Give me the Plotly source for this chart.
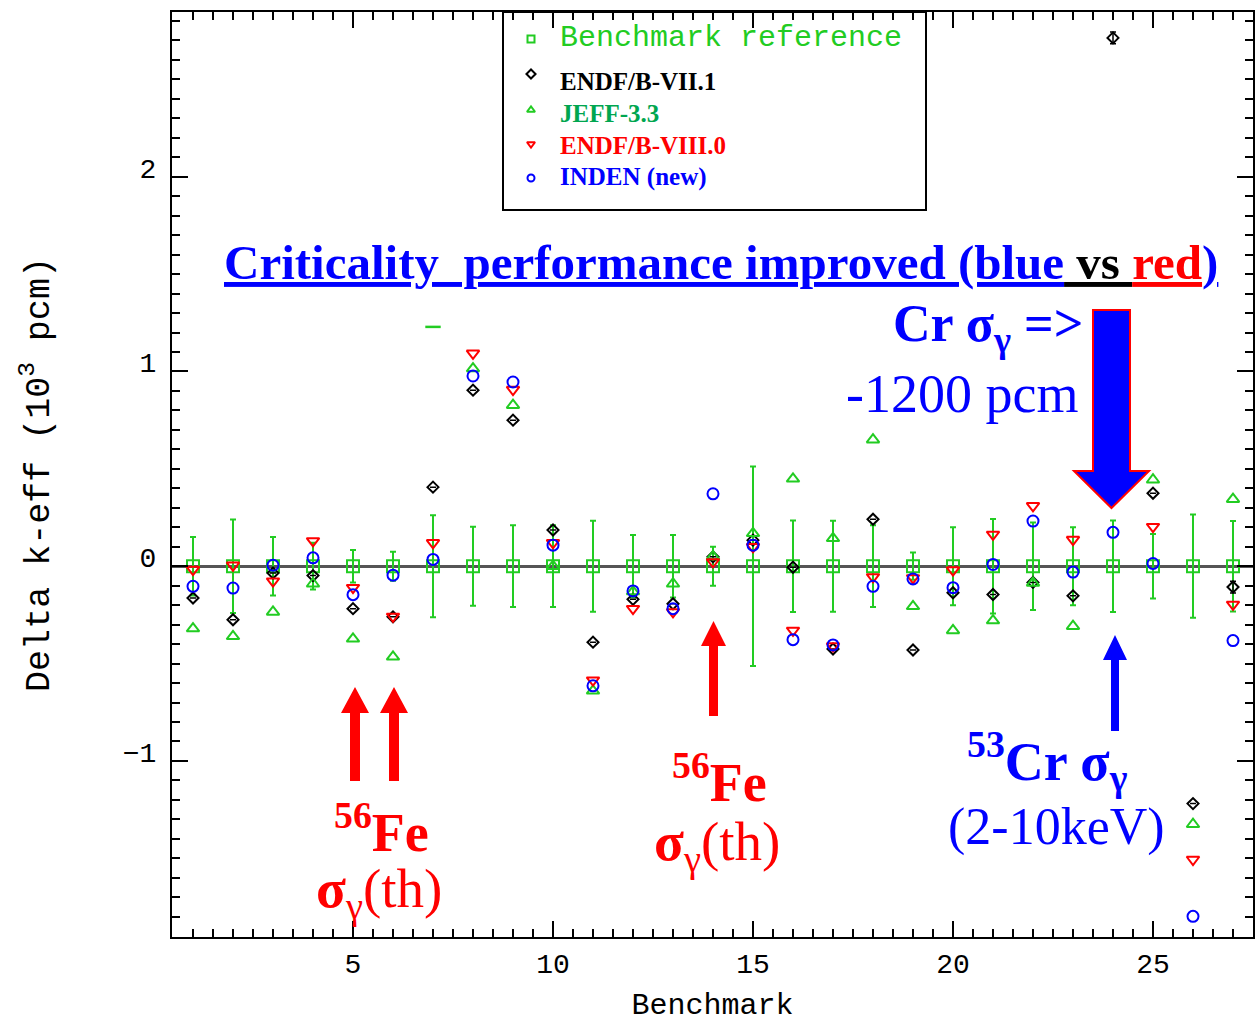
import plotly.graph_objects as go

# ---------------------------------------------------------------- data
benchmarks = list(range(1, 28))

# benchmark (experimental) reference: 0 with its 1-sigma uncertainty (10^3 pcm)
bench_ref = [0.0] * 27
bench_unc = [0.15, 0.24, 0.15, 0.12, 0.083, 0.074, 0.262, 0.203, 0.21, 0.21,
             0.234, 0.16, 0.16, 0.10, 0.512, 0.235, 0.234, 0.21, 0.07, 0.20,
             0.243, 0.225, 0.20, 0.235, 0.166, 0.265, 0.232]

endf71 = [-0.163, -0.275, -0.035, -0.048, -0.218, -0.26, 0.406, 0.904, 0.750, 0.186,
          -0.39, -0.17, -0.193, 0.048, 0.134, -0.005, -0.425, 0.241, -0.43, -0.136,
          -0.145, -0.083, -0.152, 2.713, 0.375, -1.219, -0.107]
endf71_unc = [0, 0, 0, 0, 0, 0, 0, 0, 0, 0, 0, 0, 0, 0, 0, 0, 0, 0, 0, 0,
              0, 0, 0, 0.03, 0, 0, 0.03]

jeff33 = [-0.32, -0.36, -0.235, -0.09, -0.373, -0.465, None, 1.015, 0.827, 0.0,
          -0.64, -0.13, -0.09, 0.05, 0.169, 0.449, 0.143, 0.65, -0.206, -0.33,
          -0.279, -0.086, -0.308, None, 0.444, -1.325, 0.344]

endf80 = [-0.017, 0.005, -0.077, 0.13, -0.11, -0.258, 0.12, 1.093, 0.907, 0.12,
          -0.585, -0.218, -0.235, 0.022, 0.1, -0.33, -0.41, -0.055, -0.06, -0.02,
          0.163, 0.31, 0.137, None, 0.203, -1.506, -0.196]

inden = [-0.103, -0.112, 0.005, 0.043, -0.146, -0.046, 0.035, 0.977, 0.946, 0.108,
         -0.614, -0.127, -0.218, 0.372, 0.108, -0.377, -0.404, -0.103, -0.065, -0.11,
         0.009, 0.232, -0.03, 0.174, 0.014, -1.798, -0.382]

# JEFF-3.3 mark for benchmark 7 drawn as a dash
jeff_dash_x = [7]
jeff_dash_y = [1.229]

series_names = ["Benchmark reference", "ENDF/B-VII.1", "JEFF-3.3",
                "ENDF/B-VIII.0", "INDEN (new)"]

# ---------------------------------------------------------------- layout geometry
W, H = 1255, 1023
M = dict(l=172, r=2, t=12, b=86)
PW = W - M["l"] - M["r"]
PH = H - M["t"] - M["b"]
X_RANGE = [0.475, 27.5]
Y_RANGE = [-1.904, 2.846]

GREEN = "rgb(34,204,34)"
DARK_GREEN = "rgb(0,166,80)"
RED = "rgb(255,0,0)"
BLUE = "rgb(0,0,255)"
SERIF = "Liberation Serif"
MONO = "Liberation Mono"


def dx(px):
    return X_RANGE[0] + (px - M["l"]) / PW * (X_RANGE[1] - X_RANGE[0])


def dy(py):
    return Y_RANGE[1] - (py - M["t"]) / PH * (Y_RANGE[1] - Y_RANGE[0])


def paper(px, py):
    return (px - M["l"]) / PW, (M["t"] + PH - py) / PH


def arrow_path(cx, tip, head_base, tail, head_hw, shaft_hw):
    pts = [(cx, tip), (cx + head_hw, head_base), (cx + shaft_hw, head_base),
           (cx + shaft_hw, tail), (cx - shaft_hw, tail), (cx - shaft_hw, head_base),
           (cx - head_hw, head_base)]
    return "M " + " L ".join(f"{dx(x):.4f},{dy(y):.4f}" for x, y in pts) + " Z"


fig = go.Figure()

fig.add_trace(go.Scatter(
    x=benchmarks, y=bench_ref, mode="markers", name=series_names[0],
    marker=dict(symbol="square-open", size=12, color=GREEN, line=dict(width=2)),
    error_y=dict(type="data", array=bench_unc, color=GREEN, thickness=2, width=3),
))
fig.add_trace(go.Scatter(
    x=benchmarks, y=endf71, mode="markers", name=series_names[1],
    marker=dict(symbol="diamond-open", size=8.5, color="black", line=dict(width=2)),
    error_y=dict(type="data", array=endf71_unc, color="black", thickness=1.5, width=3),
))
fig.add_trace(go.Scatter(
    x=benchmarks, y=jeff33, mode="markers", name=series_names[2],
    marker=dict(symbol="triangle-up-open", size=11, color=GREEN, line=dict(width=2)),
))
fig.add_trace(go.Scatter(
    x=jeff_dash_x, y=jeff_dash_y, mode="markers", showlegend=False,
    marker=dict(symbol="line-ew-open", size=11, color=GREEN, line=dict(width=2.5, color=GREEN)),
))
fig.add_trace(go.Scatter(
    x=benchmarks, y=endf80, mode="markers", name=series_names[3],
    marker=dict(symbol="triangle-down-open", size=11, color=RED, line=dict(width=2)),
))
fig.add_trace(go.Scatter(
    x=benchmarks, y=inden, mode="markers", name=series_names[4],
    marker=dict(symbol="circle-open", size=11, color=BLUE, line=dict(width=2)),
))

# ---------------------------------------------------------------- key box
key_rows_py = [39, 74, 110, 144, 178]
key_text_py = [38, 81, 114, 146, 177]
key_symbols = ["square-open", "diamond-open", "triangle-up-open", "triangle-down-open", "circle-open"]
key_colors = [GREEN, "black", GREEN, RED, BLUE]
key_text_colors = [GREEN, "black", DARK_GREEN, RED, BLUE]

kx = [paper(531, py)[0] for py in key_rows_py]
ky = [paper(531, py)[1] for py in key_rows_py]
fig.add_trace(go.Scatter(
    x=kx, y=ky, mode="markers", xaxis="x2", yaxis="y2", showlegend=False,
    hoverinfo="skip",
    marker=dict(symbol=key_symbols, size=7, color=key_colors, line=dict(width=2, color=key_colors)),
))

shapes = []
x0, y0 = paper(503, 210)
x1, y1 = paper(926, 12)
shapes.append(dict(type="rect", xref="paper", yref="paper", x0=x0, y0=y0, x1=x1, y1=y1,
                   line=dict(color="black", width=2), fillcolor="white", layer="below"))

# ---------------------------------------------------------------- arrows
shapes.append(dict(type="path", xref="x", yref="y", layer="above",
                   path=arrow_path(355, 687, 713, 781, 14, 5),
                   fillcolor=RED, line=dict(width=0)))
shapes.append(dict(type="path", xref="x", yref="y", layer="above",
                   path=arrow_path(394, 687, 713, 781, 14, 5),
                   fillcolor=RED, line=dict(width=0)))
shapes.append(dict(type="path", xref="x", yref="y", layer="above",
                   path=arrow_path(713.5, 621, 646, 716, 12.5, 4.5),
                   fillcolor=RED, line=dict(width=0)))
shapes.append(dict(type="path", xref="x", yref="y", layer="above",
                   path=arrow_path(1115, 635, 660, 731, 12, 4),
                   fillcolor=BLUE, line=dict(width=0)))
shapes.append(dict(type="path", xref="x", yref="y", layer="above",
                   path=arrow_path(1111.5, 508, 471, 310, 37.5, 18.5),
                   fillcolor=BLUE, line=dict(width=2, color=RED)))

# ---------------------------------------------------------------- text
annotations = []


def note(px, py, text, size, color, family=SERIF, xanchor="center", yanchor="middle"):
    ax, ay = paper(px, py)
    annotations.append(dict(x=ax, y=ay, xref="paper", yref="paper", text=text,
                            showarrow=False, xanchor=xanchor, yanchor=yanchor,
                            font=dict(family=family, size=size, color=color)))


key_labels = [
    "Benchmark reference",
    "<b>ENDF/B-VII.1</b>",
    "<b>JEFF-3.3</b>",
    "<b>ENDF/B-VIII.0</b>",
    "<b>INDEN (new)</b>",
]
for i, lab in enumerate(key_labels):
    if i == 0:
        note(558, key_text_py[i], lab, 30, key_text_colors[i], family=MONO, xanchor="left")
    else:
        note(558, key_text_py[i], lab, 25, key_text_colors[i], xanchor="left")

title = ('<b><span style="color:blue"><u>Criticality&nbsp; performance improved (blue</u></span>'
         '<span style="color:black"><u> vs </u></span>'
         '<span style="color:red"><u>red</u></span>'
         '<span style="color:blue"><u>)</u></span></b>')
note(721, 262, title, 49, BLUE)

note(988, 328, "<b>Cr σ<sub>γ</sub> =></b>", 52, BLUE)
note(962, 394, "-1200 pcm", 54, BLUE)

note(381, 828, "<b><sup>56</sup>Fe</b>", 54, RED)
note(379, 892, "<b>σ</b><sub>γ</sub>(th)", 55, RED)
note(719, 778, "<b><sup>56</sup>Fe</b>", 54, RED)
note(717, 845, "<b>σ</b><sub>γ</sub>(th)", 55, RED)

note(1047, 761, "<b><sup>53</sup>Cr σ<sub>γ</sub></b>", 54, BLUE)
note(1056, 827, "(2-10keV)", 52, BLUE)

# ---------------------------------------------------------------- axes
axis_common = dict(
    showline=True, linecolor="black", linewidth=2, mirror="allticks",
    ticks="inside", tickcolor="black", tickwidth=1.5, ticklen=16,
    showgrid=False, automargin=False,
    tickfont=dict(family=MONO, size=28, color="black"),
)

fig.update_layout(
    width=W, height=H,
    margin=dict(M, autoexpand=False),
    paper_bgcolor="white", plot_bgcolor="white",
    showlegend=False,
    xaxis=dict(
        range=X_RANGE, tick0=0, dtick=5, zeroline=False,
        minor=dict(dtick=0.5, ticks="inside", ticklen=8, tickwidth=1.5, tickcolor="black"),
        ticklabelstandoff=0,
        title=dict(text="Benchmark", font=dict(family=MONO, size=30, color="black"), standoff=30),
        **axis_common,
    ),
    yaxis=dict(
        range=Y_RANGE, tick0=0, dtick=1,
        zeroline=True, zerolinecolor="rgb(85,85,85)", zerolinewidth=2.5,
        minor=dict(dtick=0.1, ticks="inside", ticklen=8, tickwidth=1.5, tickcolor="black"),
        ticklabelstandoff=8, ticklabelshift=-9,
        title=dict(text="Delta k-eff (10<sup>3</sup> pcm)",
                   font=dict(family=MONO, size=35, color="black"), standoff=63),
        **axis_common,
    ),
    xaxis2=dict(overlaying="x", range=[0, 1], visible=False, fixedrange=True),
    yaxis2=dict(overlaying="y", range=[0, 1], visible=False, fixedrange=True),
    shapes=shapes,
    annotations=annotations,
)

fig.write_html("out.html")
